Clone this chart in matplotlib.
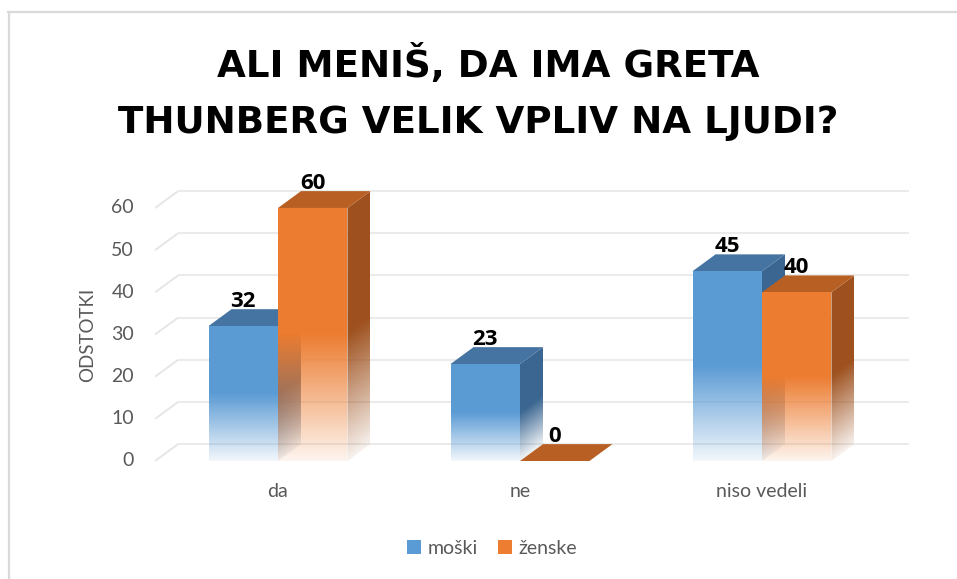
import numpy as np
import matplotlib.pyplot as plt
from matplotlib.patches import Polygon, Patch
from matplotlib.lines import Line2D

categories = ["da", "ne", "niso vedeli"]
series_names = ["moški", "ženske"]
moski = [32, 23, 45]
zenske = [60, 0, 40]
yticks = [0, 10, 20, 30, 40, 50, 60]
title_lines = ["ALI MENIŠ, DA IMA GRETA", "THUNBERG VELIK VPLIV NA LJUDI?"]
ylabel = "ODSTOTKI"

# face colours: front, top, side
blue = dict(front=(0.357, 0.608, 0.835), top=(0.27, 0.455, 0.64), side=(0.23, 0.40, 0.57))
orange = dict(front=(0.929, 0.490, 0.192), top=(0.72, 0.375, 0.14), side=(0.62, 0.32, 0.12))
gray = "#595959"

W, H = 957, 579
fig = plt.figure(figsize=(W / 100, H / 100), dpi=100)
ax = fig.add_axes([0, 0, 1, 1])
ax.axis("off")

# pixel layout of the category / value scales
cat_px, cat0_px = 242.0, 278.0
base_px, unit_px = 461.0, 4.217
x_lo, x_hi = -cat0_px / cat_px, (W - cat0_px) / cat_px
y_lo, y_hi = (base_px - H) / unit_px, base_px / unit_px

bw = 0.287      # bar width (category units)
ddx = 0.095     # depth offset in x
ddy = 4.0       # depth offset in value units
grid_left = -0.508
grid_right = 2.607

font = "Lato"
bold_font = "Open Sans"
title_font = "DejaVu Sans"
z = [10]


def nz():
    z[0] += 1
    return z[0]


def fade(f):
    # solid in the upper half, fading towards the base
    return np.clip(0.08 + 0.92 * f / 0.5, 0.08, 1.0)


def shaded_face(pts, rgb, height, base_fn):
    pts = np.asarray(pts, float)
    patch = Polygon(pts, closed=True, facecolor="none", edgecolor="none", zorder=0)
    ax.add_patch(patch)
    ext = [pts[:, 0].min(), pts[:, 0].max(), pts[:, 1].min(), pts[:, 1].max()]
    gx = np.linspace(ext[0], ext[1], 80)
    gy = np.linspace(ext[3], ext[2], 300)
    X, Y = np.meshgrid(gx, gy)
    f = (Y - base_fn(X)) / height
    img = np.zeros(X.shape + (4,))
    img[..., :3] = rgb
    img[..., 3] = fade(f)
    im = ax.imshow(img, extent=ext, origin="upper", aspect="auto",
                   interpolation="bilinear", zorder=nz())
    im.set_clip_path(patch)


def bar3d(xl, v, col):
    xr = xl + bw
    if v > 0:
        # right side face, base slants back with the depth
        side = [(xr, 0), (xr + ddx, ddy), (xr + ddx, v + ddy), (xr, v)]
        shaded_face(side, col["side"], v, lambda X: (X - xr) / ddx * ddy)
    top = [(xl, v), (xr, v), (xr + ddx, v + ddy), (xl + ddx, v + ddy)]
    ax.add_patch(Polygon(top, closed=True, facecolor=col["top"], edgecolor="none", zorder=nz()))
    if v > 0:
        front = [(xl, 0), (xr, 0), (xr, v), (xl, v)]
        shaded_face(front, col["front"], v, lambda X: np.zeros_like(X))
    ax.text(xl + bw / 2, v + ddy + 0.6, f"{v:g}", ha="center", va="baseline",
            fontsize=16, fontweight="bold", color="black", family=bold_font, zorder=100)


# back wall grid and the slanted floor/side grid lines
for t in yticks:
    ax.plot([grid_left, grid_left + ddx], [t, t + ddy], color="#E6E6E6", lw=1.4, zorder=1,
            solid_capstyle="butt")
    ax.plot([grid_left + ddx, grid_right], [t + ddy, t + ddy], color="#EBEBEB", lw=1.5, zorder=1,
            solid_capstyle="butt")
    ax.text(-0.595, t, str(t), ha="right", va="center", fontsize=14, color=gray, family=font)

for i, cat in enumerate(categories):
    bar3d(i - bw, moski[i], blue)
    bar3d(i, zenske[i], orange)
    ax.text(i, -7.3, cat, ha="center", va="center", fontsize=14, color=gray, family=font)

ax.text(-0.785, 30, ylabel, rotation=90, ha="center", va="center", fontsize=13.5,
        color=gray, family=font)

ax.set_xlim(x_lo, x_hi)
ax.set_ylim(y_lo, y_hi)

fig.text(488 / W, 1 - 77 / H, title_lines[0], ha="center", va="baseline", fontsize=26.8,
         fontweight="bold", family=title_font, color="black")
fig.text(478 / W, 1 - 133 / H, title_lines[1], ha="center", va="baseline", fontsize=26.8,
         fontweight="bold", family=title_font, color="black")

handles = [Patch(facecolor=blue["front"], edgecolor="none"),
           Patch(facecolor=orange["front"], edgecolor="none")]
fig.legend(handles, series_names, loc="center", bbox_to_anchor=(492 / W, 1 - 548 / H),
           ncol=2, frameon=False, prop=dict(family=font, size=14), labelcolor=gray,
           handlelength=0.72, handleheight=0.72, handletextpad=0.35, columnspacing=1.0)

# chart frame (top and left edges)
fig.add_artist(Line2D([8 / W, 1], [1 - 12 / H, 1 - 12 / H], color="#D9D9D9", lw=1.6,
                      transform=fig.transFigure))
fig.add_artist(Line2D([8.5 / W, 8.5 / W], [0, 1 - 12 / H], color="#D9D9D9", lw=1.6,
                      transform=fig.transFigure))

fig.savefig("out.png", dpi=100)
